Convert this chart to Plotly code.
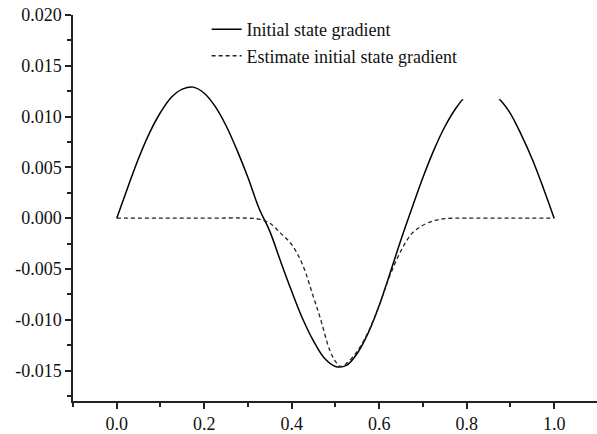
import plotly.graph_objects as go

# Solid: initial state gradient
x_true = [0.000, 0.025, 0.050, 0.075, 0.100, 0.125, 0.150, 0.175, 0.200, 0.225,
          0.250, 0.275, 0.300, 0.325, 0.350, 0.375, 0.400, 0.425, 0.450, 0.475,
          0.500, 0.525, 0.550, 0.575, 0.600, 0.625, 0.650, 0.675, 0.700, 0.725,
          0.750, 0.775, 0.800, 0.825, 0.850, 0.875, 0.900, 0.925, 0.950, 0.975, 1.000]
y_true = [0.0, 3.0, 5.9, 8.4, 10.4, 11.9, 12.7, 12.9, 12.3, 11.0,
          9.1, 6.7, 4.0, 1.0, -1.3, -4.3, -7.2, -9.9, -12.1, -13.8,
          -14.6, -14.5, -13.3, -11.3, -8.6, -5.4, -2.1, 1.0, 4.0, 6.7,
          9.0, 10.8, 12.1, 12.7, 12.5, 11.7, 10.3, 8.2, 5.8, 3.0, 0.0]

# Dashed: estimated initial state gradient
x_est = [0.000, 0.100, 0.200, 0.300, 0.325, 0.350, 0.375, 0.400, 0.425, 0.450,
         0.465, 0.487, 0.500, 0.510, 0.525, 0.550, 0.575, 0.600, 0.625, 0.650,
         0.675, 0.700, 0.725, 0.750, 0.800, 0.900, 1.000]
y_est = [0.0, 0.0, 0.0, 0.0, -0.1, -0.5, -1.5, -2.6, -4.6, -7.8,
         -9.8, -13.0, -14.1, -14.6, -14.3, -13.1, -11.2, -8.6, -5.6, -3.2,
         -1.5, -0.7, -0.25, -0.05, 0.0, 0.0, 0.0]

names = ["Initial state gradient", "Estimate initial state gradient"]
x_ticks = [0.0, 0.2, 0.4, 0.6, 0.8, 1.0]
x_ticktext = ["0.0", "0.2", "0.4", "0.6", "0.8", "1.0"]
y_ticks = [0.020, 0.015, 0.010, 0.005, 0.000, -0.005, -0.010, -0.015]
y_ticktext = ["0.020", "0.015", "0.010", "0.005", "0.000", "-0.005", "-0.010", "-0.015"]

scale = 1e-3
fig = go.Figure()
fig.add_trace(go.Scatter(x=x_true, y=[v * scale for v in y_true], mode="lines",
                         name=names[0], line=dict(color="black", width=1.5, shape="spline")))
fig.add_trace(go.Scatter(x=x_est, y=[v * scale for v in y_est], mode="lines",
                         name=names[1], line=dict(color="#222", width=1.3, dash="4px,3px", shape="spline")))

# white legend box area (as in the original figure) hiding part of the curve
fig.add_shape(type="rect", xref="x", yref="y", x0=0.222, x1=0.877, y0=0.0117, y1=0.0205,
              fillcolor="white", line=dict(width=0), layer="above")

font = "Liberation Serif, Times New Roman, serif"
axis_common = dict(showline=True, linecolor="#222", linewidth=1.5, ticks="outside",
                   ticklen=6, tickwidth=1.5, tickcolor="#222", showgrid=False, zeroline=False,
                   tickfont=dict(family=font, size=18, color="#111"),
                   minor=dict(ticks="outside", ticklen=4, tickwidth=1.5, tickcolor="#222"))
fig.update_xaxes(range=[-0.1, 1.098], tickvals=x_ticks, ticktext=x_ticktext,
                 **axis_common)
fig.update_xaxes(minor=dict(tickvals=[-0.1, 0.1, 0.3, 0.5, 0.7, 0.9, 1.1]))
fig.update_yaxes(range=[-0.018, 0.020], tickvals=y_ticks, ticktext=y_ticktext,
                 **axis_common)
fig.update_yaxes(minor=dict(tickvals=[0.0175, 0.0125, 0.0075, 0.0025, -0.0025, -0.0075, -0.0125, -0.0175]))

fig.update_layout(
    width=597, height=434,
    margin=dict(l=73, r=0, t=15, b=28),
    paper_bgcolor="white", plot_bgcolor="white",
    showlegend=True,
    legend=dict(x=0.255, y=1.01, xanchor="left", yanchor="top", bgcolor="rgba(0,0,0,0)",
                font=dict(family=font, size=18, color="#111"), tracegroupgap=0,
                itemwidth=30),
)
fig.write_html("out.html")
